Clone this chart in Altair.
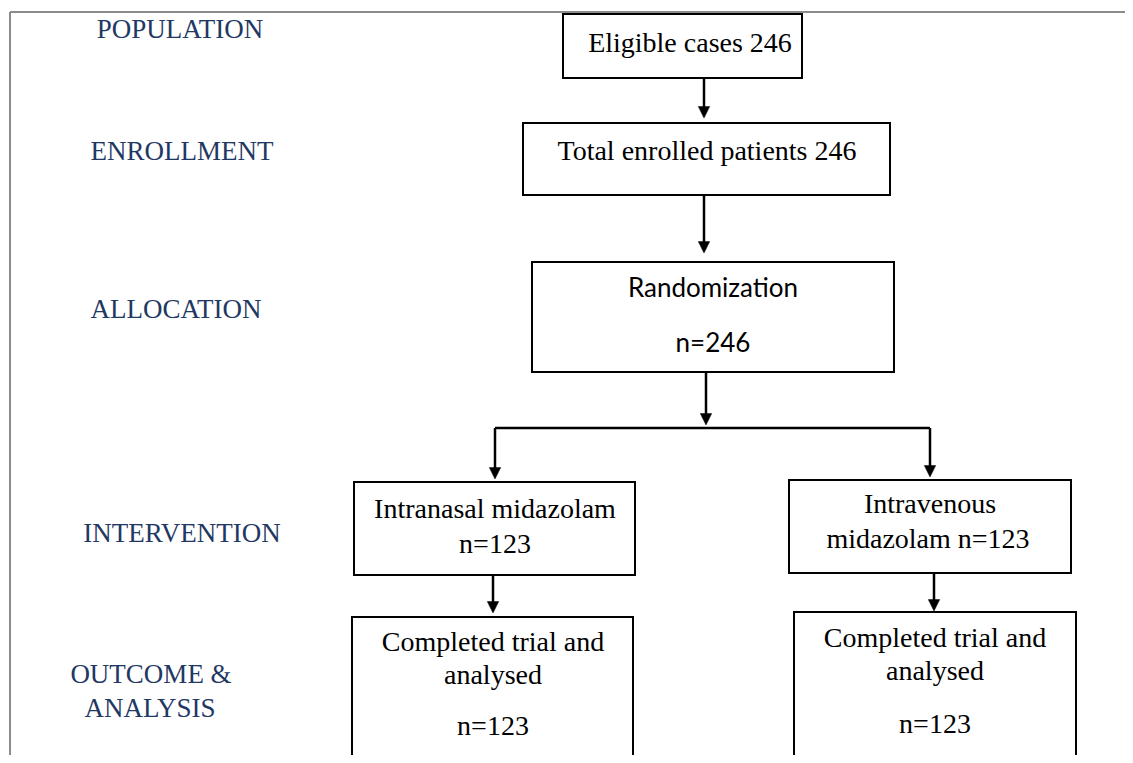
import altair as alt
import pandas as pd

# ---- Stage labels (left column) ----
stage_labels = ["POPULATION", "ENROLLMENT", "ALLOCATION", "INTERVENTION", "OUTCOME &", "ANALYSIS"]
stage_x = [180, 182, 176, 182, 151, 150]
stage_y = [38, 160, 318, 542, 683, 717]

# ---- Boxes ----
box_x1 = [563, 523, 532, 354, 352, 789, 794]
box_x2 = [802, 890, 894, 635, 633, 1071, 1076]
box_y1 = [14, 123, 262, 482, 617, 480, 612]
box_y2 = [78, 195, 372, 575, 790, 573, 790]

# ---- Box texts ----
box_text = ["Eligible cases 246", "Total enrolled patients 246",
            "Randomization", "n=246",
            "Intranasal midazolam", "n=123",
            "Completed trial and", "analysed", "n=123",
            "Intravenous", "midazolam n=123",
            "Completed trial and", "analysed", "n=123"]
box_text_x = [690, 707, 713, 713, 495, 495, 493, 493, 493, 930, 928, 935, 935, 935]
box_text_y = [52, 160, 297, 352, 518, 553, 651, 684, 735, 513, 548, 647, 680, 733]
box_text_kind = ["serif", "serif", "sans", "sans"] + ["serif"] * 10

# ---- Connector lines ----
line_x1 = [704, 704, 706, 495, 495, 930, 493, 934]
line_y1 = [78, 195, 372, 428, 428, 428, 575, 573]
line_x2 = [704, 704, 706, 930, 495, 930, 493, 934]
line_y2 = [110, 245, 417, 428, 471, 469, 605, 603]

# ---- Arrow tips ----
tip_x = [704, 704, 706, 495, 930, 493, 934]
tip_y = [118, 253, 425, 479, 477, 613, 611]

# ---- Frame (gray border) ----
frame_x1 = [10, 10]
frame_y1 = [12, 12]
frame_x2 = [1125, 10]
frame_y2 = [12, 755]

W, H = 1117, 747
xs = alt.Scale(domain=[8, 8 + W], nice=False, zero=False)
ys = alt.Scale(domain=[8 + H, 8], nice=False, zero=False)

frame_df = pd.DataFrame({"x": frame_x1, "y": frame_y1, "x2": frame_x2, "y2": frame_y2})
frame = alt.Chart(frame_df).mark_rule(color="#8c8c8c", strokeWidth=2).encode(
    x=alt.X("x:Q", scale=xs, axis=None), y=alt.Y("y:Q", scale=ys, axis=None),
    x2="x2:Q", y2="y2:Q")

box_df = pd.DataFrame({"x": box_x1, "x2": box_x2, "y": box_y1, "y2": box_y2})
boxes = alt.Chart(box_df).mark_rect(fill="white", stroke="black", strokeWidth=2, clip=True).encode(
    x=alt.X("x:Q", scale=xs, axis=None), x2="x2:Q",
    y=alt.Y("y:Q", scale=ys, axis=None), y2="y2:Q")

line_df = pd.DataFrame({"x": line_x1, "y": line_y1, "x2": line_x2, "y2": line_y2})
lines = alt.Chart(line_df).mark_rule(color="black", strokeWidth=2.5).encode(
    x=alt.X("x:Q", scale=xs, axis=None), y=alt.Y("y:Q", scale=ys, axis=None),
    x2="x2:Q", y2="y2:Q")

tip_df = pd.DataFrame({"x": tip_x, "y": tip_y})
tips = alt.Chart(tip_df).mark_point(
    shape="M-1,-2L1,-2L0,0Z", filled=True, fill="black", stroke="black",
    strokeWidth=0.5, size=130, opacity=1).encode(
    x=alt.X("x:Q", scale=xs, axis=None), y=alt.Y("y:Q", scale=ys, axis=None))

stage_df = pd.DataFrame({"t": stage_labels, "x": stage_x, "y": stage_y})
stages = alt.Chart(stage_df).mark_text(
    font="Liberation Serif", fontSize=27, color="#1f3864",
    align="center", baseline="alphabetic").encode(
    x=alt.X("x:Q", scale=xs, axis=None), y=alt.Y("y:Q", scale=ys, axis=None), text="t:N")

text_df = pd.DataFrame({"t": box_text, "x": box_text_x, "y": box_text_y, "k": box_text_kind})
serif_text = alt.Chart(text_df).transform_filter(alt.datum.k == "serif").mark_text(
    font="Liberation Serif", fontSize=28, color="black",
    align="center", baseline="alphabetic").encode(
    x=alt.X("x:Q", scale=xs, axis=None), y=alt.Y("y:Q", scale=ys, axis=None), text="t:N")
sans_text = alt.Chart(text_df).transform_filter(alt.datum.k == "sans").mark_text(
    font="Lato", fontSize=26, color="black",
    align="center", baseline="alphabetic").encode(
    x=alt.X("x:Q", scale=xs, axis=None), y=alt.Y("y:Q", scale=ys, axis=None), text="t:N")

chart = alt.layer(frame, boxes, lines, tips, stages, serif_text, sans_text).properties(
    width=W, height=H, padding=0, autosize=alt.AutoSizeParams(type="none")
).configure_view(stroke=None)

chart.save("out.html", embed_options={"renderer": "svg", "actions": False})
